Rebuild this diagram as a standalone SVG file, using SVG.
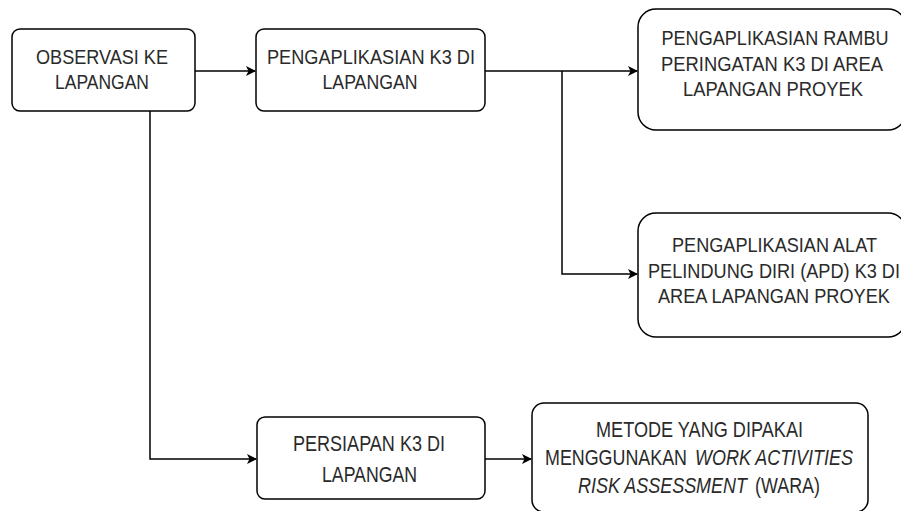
<svg xmlns="http://www.w3.org/2000/svg" width="901" height="511" viewBox="0 0 901 511">
<defs>
<style>
.box{fill:#fff;stroke:#000;stroke-width:1.5}
.t{font-family:"Liberation Sans",Arial,sans-serif;font-size:21px;fill:#2a2a2a;text-anchor:middle}
.tb{font-size:22.5px}
.s{text-anchor:start}
.edge{fill:none;stroke:#000;stroke-width:1.5}
.i{font-style:italic}
</style>
<marker id="arr" viewBox="0 0 10 10" refX="9" refY="5" markerWidth="11" markerHeight="10" markerUnits="userSpaceOnUse" orient="auto">
<path d="M0,0 L10,5 L0,10 L2.5,5 Z" fill="#000"/>
</marker>
</defs>
<rect width="901" height="511" fill="#fff"/>
<g id="connectors">
<path class="edge" d="M195,71 H255" marker-end="url(#arr)"/>
<path class="edge" d="M485,71 H637" marker-end="url(#arr)"/>
<path class="edge" d="M562,71 V274 H637" marker-end="url(#arr)"/>
<path class="edge" d="M150,111 V459 H256" marker-end="url(#arr)"/>
<path class="edge" d="M485,459 H531" marker-end="url(#arr)"/>
</g>
<g id="n1">
<rect class="box" x="12" y="29" width="183" height="82" rx="8"/>
<text class="t" x="102" y="64" textLength="132" lengthAdjust="spacingAndGlyphs">OBSERVASI KE</text>
<text class="t" x="102" y="89" textLength="94" lengthAdjust="spacingAndGlyphs">LAPANGAN</text>
</g>
<g id="n2">
<rect class="box" x="256" y="29" width="229" height="82" rx="8"/>
<text class="t" x="371" y="64" textLength="208" lengthAdjust="spacingAndGlyphs">PENGAPLIKASIAN K3 DI</text>
<text class="t" x="370" y="89" textLength="95" lengthAdjust="spacingAndGlyphs">LAPANGAN</text>
</g>
<g id="n3">
<rect class="box" x="638" y="9" width="268" height="121" rx="18"/>
<text class="t" x="775" y="44.5" textLength="227" lengthAdjust="spacingAndGlyphs">PENGAPLIKASIAN RAMBU</text>
<text class="t" x="772" y="70.5" textLength="222" lengthAdjust="spacingAndGlyphs">PERINGATAN K3 DI AREA</text>
<text class="t" x="773" y="96" textLength="180" lengthAdjust="spacingAndGlyphs">LAPANGAN PROYEK</text>
</g>
<g id="n4">
<rect class="box" x="638" y="213" width="268" height="124" rx="18"/>
<text class="t" x="774.5" y="252" textLength="205" lengthAdjust="spacingAndGlyphs">PENGAPLIKASIAN ALAT</text>
<text class="t" x="774" y="278" textLength="252" lengthAdjust="spacingAndGlyphs">PELINDUNG DIRI (APD) K3 DI</text>
<text class="t" x="774" y="303" textLength="232" lengthAdjust="spacingAndGlyphs">AREA LAPANGAN PROYEK</text>
</g>
<g id="n5">
<rect class="box" x="257" y="417" width="228" height="82" rx="8"/>
<text class="t tb" x="369" y="451" textLength="152" lengthAdjust="spacingAndGlyphs">PERSIAPAN K3 DI</text>
<text class="t tb" x="369.5" y="482" textLength="95" lengthAdjust="spacingAndGlyphs">LAPANGAN</text>
</g>
<g id="n6">
<rect class="box" x="532" y="403" width="336" height="109" rx="12"/>
<text class="t tb" x="699.5" y="437" textLength="207" lengthAdjust="spacingAndGlyphs">METODE YANG DIPAKAI</text>
<text class="t tb s" x="545" y="465" textLength="142" lengthAdjust="spacingAndGlyphs">MENGGUNAKAN</text>
<text class="t tb s i" x="695" y="465" textLength="158" lengthAdjust="spacingAndGlyphs">WORK ACTIVITIES</text>
<text class="t tb s i" x="578" y="493" textLength="169" lengthAdjust="spacingAndGlyphs">RISK ASSESSMENT</text>
<text class="t tb s" x="755" y="493" textLength="65" lengthAdjust="spacingAndGlyphs">(WARA)</text>
</g>
</svg>
